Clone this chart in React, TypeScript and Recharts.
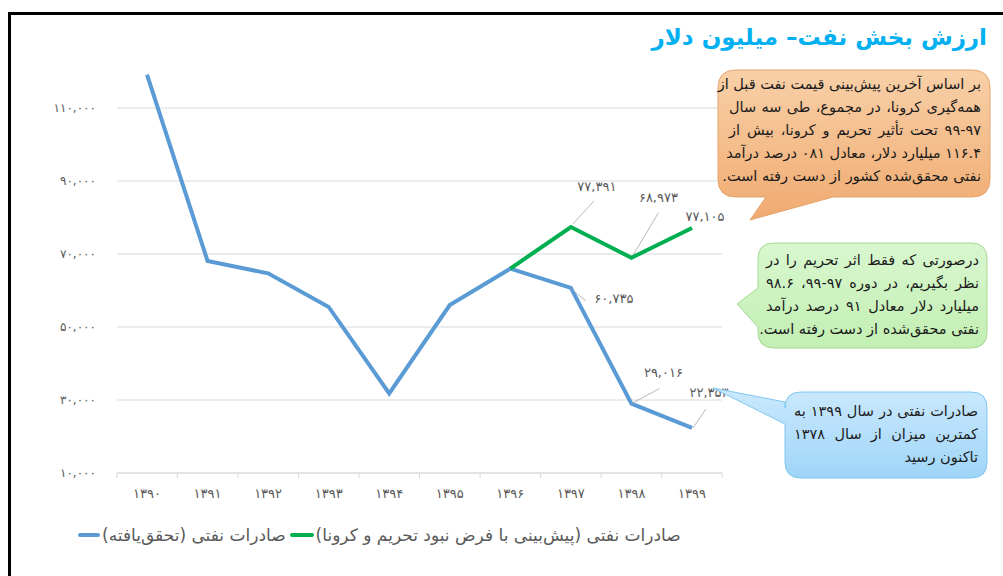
import React from 'react';
import { LineChart, Line, XAxis, YAxis, CartesianGrid, LabelList } from 'recharts';

// سال‌ها و مقادیر (میلیون دلار)
const years = ['۱۳۹۰', '۱۳۹۱', '۱۳۹۲', '۱۳۹۳', '۱۳۹۴', '۱۳۹۵', '۱۳۹۶', '۱۳۹۷', '۱۳۹۸', '۱۳۹۹'];
const actual = [119148, 68100, 64700, 55500, 31800, 56000, 66000, 60735, 29016, 22353];
const forecast = [null, null, null, null, null, null, 66000, 77391, 68973, 77105];
const yTicks = [10000, 30000, 50000, 70000, 90000, 110000];

const actualName = 'صادرات نفتی (تحقق‌یافته)';
const forecastName = 'صادرات نفتی (پیش‌بینی با فرض نبود تحریم و کرونا)';

const BLUE = '#5b9bd5';
const GREEN = '#00b050';
const GRAY = '#595959';
const FONT = '"DejaVu Sans", sans-serif';
const BAND = 60.5; // category width in px (plot width / 10)
const TICK_MARGIN = 16;

const data = years.map((year, i) => ({ year, actual: actual[i], forecast: forecast[i] }));

const fa = (s: string) => s.replace(/\d/g, (d) => '۰۱۲۳۴۵۶۷۸۹'[Number(d)]);
const fmt = (v: number) => fa(v.toLocaleString('en-US'));

type Place = { dx: number; dy: number; line?: [number, number, number, number] };

// label placement relative to the point (style only)
const actualPlaces: Record<number, Place> = {
  7: { dx: 43, dy: 11, line: [0, 1, 15, 13] },
  8: { dx: 32, dy: -31, line: [0, 0, 28, -15] },
  9: { dx: 17, dy: -35, line: [1, 0, 14, -19] },
};
const forecastPlaces: Record<number, Place> = {
  7: { dx: 26, dy: -41, line: [2, -3, 23, -26] },
  8: { dx: 27, dy: -60, line: [2, -3, 27, -45] },
  9: { dx: 13, dy: -12 },
};

const makeLabel = (places: Record<number, Place>) => (props: any) => {
  const { x, y, value, index } = props;
  const p = places[index];
  if (!p || value == null) return null;
  return (
    <g>
      {p.line && (
        <line
          x1={x + p.line[0]}
          y1={y + p.line[1]}
          x2={x + p.line[2]}
          y2={y + p.line[3]}
          stroke="#a6a6a6"
          strokeWidth={0.8}
        />
      )}
      <text x={x + p.dx} y={y + p.dy} dy="0.35em" textAnchor="middle" fontSize={13} fill={GRAY} fontFamily={FONT}>
        {fmt(value)}
      </text>
    </g>
  );
};

// year label + tick marks on the category boundaries, Excel style
const YearTick = (props: any) => {
  const { x, y, payload } = props;
  const axisY = y - TICK_MARGIN;
  const isLast = payload.value === years[years.length - 1];
  return (
    <g>
      <line x1={x - BAND / 2} x2={x - BAND / 2} y1={axisY} y2={axisY + 5} stroke="#d9d9d9" />
      {isLast && <line x1={x + BAND / 2} x2={x + BAND / 2} y1={axisY} y2={axisY + 5} stroke="#d9d9d9" />}
      <text x={x} y={y} dy="0.71em" textAnchor="middle" fill={GRAY} fontSize={13} fontFamily={FONT}>
        {payload.value}
      </text>
    </g>
  );
};

const textLine = (t: string, last = false) => (
  <div
    style={{
      direction: 'rtl',
      textAlign: last ? 'right' : 'justify',
      textAlignLast: last ? 'right' : 'justify',
      whiteSpace: 'nowrap',
      height: 23,
      lineHeight: '23px',
    }}
  >
    {t}
  </div>
);

const orangeLines = [
  'بر اساس آخرین پیش‌بینی قیمت نفت قبل از',
  'همه‌گیری کرونا، در مجموع، طی سه سال',
  '۹۹-۹۷ تحت تأثیر تحریم و کرونا، بیش از',
  '۱۱۶.۴ میلیارد دلار، معادل ۰۸۱ درصد درآمد',
  'نفتی محقق‌شده کشور از دست رفته است.',
];
const greenLines = [
  'درصورتی که فقط اثر تحریم را در',
  'نظر بگیریم، در دوره ۹۷-۹۹، ۹۸.۶',
  'میلیارد دلار معادل ۹۱ درصد درآمد',
  'نفتی محقق‌شده از دست رفته است.',
];
const blueLines = ['صادرات نفتی در سال ۱۳۹۹ به', 'کمترین میزان از سال ۱۳۷۸', 'تاکنون رسید'];

function Callouts() {
  return (
    <svg width={1003} height={576} style={{ position: 'absolute', left: 0, top: 0 }}>
      <defs>
        <linearGradient id="gOr" x1="0" y1="0" x2="0" y2="1">
          <stop offset="0" stopColor="#f8d0a8" />
          <stop offset="1" stopColor="#f0aa70" />
        </linearGradient>
        <linearGradient id="gGr" x1="0" y1="0" x2="0" y2="1">
          <stop offset="0" stopColor="#d9f7cf" />
          <stop offset="1" stopColor="#c2efb3" />
        </linearGradient>
        <linearGradient id="gBl" x1="0" y1="0" x2="0" y2="1">
          <stop offset="0" stopColor="#cbe9fd" />
          <stop offset="1" stopColor="#9fd5f8" />
        </linearGradient>
      </defs>
      <path
        d="M736,70 H972 Q990,70 990,88 V179 Q990,197 972,197 H833 L750,220 L766,197 H736 Q718,197 718,179 V88 Q718,70 736,70 Z"
        fill="url(#gOr)"
        stroke="#e3a46e"
        strokeWidth={1}
      />
      <path
        d="M774,243 H971 Q987,243 987,259 V332 Q987,348 971,348 H774 Q758,348 758,332 V327 L737,304 L758,288 V259 Q758,243 774,243 Z"
        fill="url(#gGr)"
        stroke="#a6d893"
        strokeWidth={1}
      />
      <path
        d="M801,392 H971 Q987,392 987,408 V462 Q987,478 971,478 H801 Q785,478 785,462 V424 L713,388 L785,402 V408 Q785,392 801,392 Z"
        fill="url(#gBl)"
        stroke="#7fc6f0"
        strokeWidth={1}
      />
    </svg>
  );
}

export default function App() {
  return (
    <div style={{ position: 'absolute', left: 0, top: 0, width: 1003, height: 576, background: '#fff', fontFamily: FONT }}>
      <div
        style={{
          position: 'absolute',
          left: 8,
          top: 12,
          right: 0,
          bottom: 0,
          borderTop: '3px solid #000',
          borderLeft: '3px solid #000',
        }}
      />
      <LineChart
        width={1003}
        height={576}
        data={data}
        margin={{ top: 35, right: 281, left: 12, bottom: 73 }}
        style={{ position: 'absolute', left: 0, top: 0 }}
      >
        <CartesianGrid vertical={false} stroke="#d9d9d9" horizontalValues={yTicks} />
        <XAxis
          dataKey="year"
          padding={{ left: 30, right: 30 }}
          axisLine={{ stroke: '#d9d9d9' }}
          tickLine={false}
          tickSize={0}
          tickMargin={TICK_MARGIN}
          tick={<YearTick />}
          interval={0}
          height={30}
        />
        <YAxis
          width={105}
          domain={[10000, 130000]}
          ticks={yTicks}
          axisLine={false}
          tickLine={false}
          tickMargin={15}
          tickFormatter={(v: number) => fmt(v)}
          tick={{ fill: GRAY, fontSize: 12, fontFamily: FONT }}
        />
        <Line
          dataKey="actual"
          name={actualName}
          stroke={BLUE}
          strokeWidth={4}
          dot={false}
          isAnimationActive={false}
        >
          <LabelList dataKey="actual" content={makeLabel(actualPlaces)} />
        </Line>
        <Line
          dataKey="forecast"
          name={forecastName}
          stroke={GREEN}
          strokeWidth={4}
          dot={false}
          isAnimationActive={false}
        >
          <LabelList dataKey="forecast" content={makeLabel(forecastPlaces)} />
        </Line>
      </LineChart>

      <Callouts />

      <div
        style={{
          position: 'absolute',
          right: 16,
          top: 24,
          fontSize: 23,
          fontWeight: 'bold',
          color: '#00b0f0',
          direction: 'rtl',
          whiteSpace: 'nowrap',
        }}
      >
        ارزش بخش نفت– میلیون دلار
      </div>

      <div style={{ position: 'absolute', left: 729, top: 73, width: 252, fontSize: 14.5, color: '#1a1a1a' }}>
        {orangeLines.map((t, i) => (
          <React.Fragment key={i}>{textLine(t, false)}</React.Fragment>
        ))}
      </div>
      <div style={{ position: 'absolute', left: 766, top: 249, width: 213, fontSize: 14.5, color: '#1a1a1a' }}>
        {greenLines.map((t, i) => (
          <React.Fragment key={i}>{textLine(t, false)}</React.Fragment>
        ))}
      </div>
      <div style={{ position: 'absolute', left: 794, top: 400, width: 184, fontSize: 14.5, color: '#1a1a1a' }}>
        {blueLines.map((t, i) => (
          <React.Fragment key={i}>{textLine(t, i === blueLines.length - 1)}</React.Fragment>
        ))}
      </div>

      <div
        style={{
          position: 'absolute',
          left: 78,
          top: 525,
          display: 'flex',
          alignItems: 'center',
          fontSize: 17,
          color: GRAY,
          whiteSpace: 'nowrap',
        }}
      >
        <span style={{ width: 22, height: 4, borderRadius: 2, background: BLUE, display: 'inline-block' }} />
        <span style={{ direction: 'rtl', marginLeft: 2, marginRight: 4 }}>{actualName}</span>
        <span style={{ width: 24, height: 4, borderRadius: 2, background: GREEN, display: 'inline-block' }} />
        <span style={{ direction: 'rtl', marginLeft: 2 }}>{forecastName}</span>
      </div>
    </div>
  );
}
